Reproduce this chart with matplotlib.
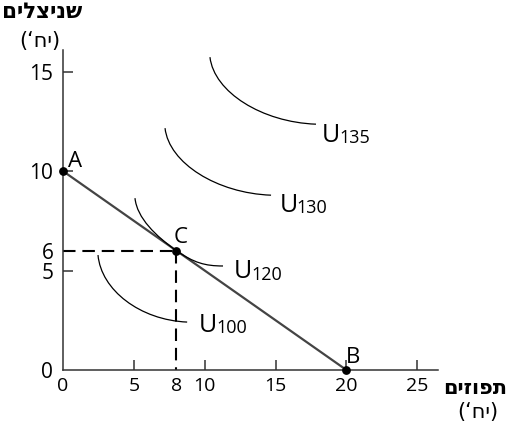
import matplotlib
matplotlib.use('Agg')
import matplotlib.pyplot as plt
from matplotlib.path import Path
from matplotlib.patches import PathPatch

plt.rcParams['font.family'] = ['Open Sans', 'DejaVu Sans']

# budget line
budget_x = [0, 20]
budget_y = [10, 0]

# points on the chart
point_names = ['A', 'B', 'C']
point_x = [0, 20, 8]
point_y = [10, 0, 6]

# indifference curves: bezier control points
u100_x = [2.47, 2.69, 5.44, 8.76]
u100_y = [5.78, 4.02, 2.51, 2.41]
u120_x = [5.08, 5.22, 6.56, 8.0, 9.24, 10.02, 11.29]
u120_y = [8.64, 7.64, 6.73, 6.0, 5.39, 5.23, 5.23]
u130_x = [7.20, 7.48, 10.87, 14.68]
u130_y = [12.16, 10.40, 8.89, 8.79]
u135_x = [10.37, 10.66, 14.04, 17.85]
u135_y = [15.73, 13.97, 12.46, 12.36]

curve_names = ['100', '120', '130', '135']
label_x = [9.60, 12.07, 15.31, 18.28]
label_y = [1.92, 4.62, 7.95, 11.46]

xtick_vals = [0, 5, 8, 10, 15, 20, 25]
ytick_vals = [0, 5, 6, 10, 15]

fig = plt.figure(figsize=(5.11, 4.29), dpi=100)
ax = fig.add_axes([63 / 511, 59 / 429, 375 / 511, 320 / 429])
ax.set_xlim(0, 26.46)
ax.set_ylim(0, 16.09)

for s in ['top', 'right']:
    ax.spines[s].set_visible(False)
for s in ['left', 'bottom']:
    ax.spines[s].set_color('#333333')
    ax.spines[s].set_linewidth(1.1)

ax.set_xticks(xtick_vals)
ax.set_yticks(ytick_vals)
ax.set_xticklabels([str(v) for v in xtick_vals], fontsize=14)
ax.set_yticklabels([str(v) for v in ytick_vals], fontsize=15)
ax.tick_params(axis='x', direction='in', length=7, width=1.1, color='#333333', pad=5)
ax.tick_params(axis='y', direction='in', length=7, width=1.1, color='#333333', pad=7)
# no tick marks at 0 and at the dashed values
for i, v in enumerate(xtick_vals):
    if v in (0, 8):
        ax.xaxis.get_major_ticks()[i].tick1line.set_visible(False)
for i, v in enumerate(ytick_vals):
    if v in (0, 6):
        ax.yaxis.get_major_ticks()[i].tick1line.set_visible(False)

# dashed guides to C
ax.plot([0, 8], [6, 6], color='black', lw=1.5, dashes=(6, 3.3), zorder=2)
ax.plot([8, 8], [6, 0], color='black', lw=1.5, dashes=(6, 3.3), zorder=2)

# budget line
ax.plot(budget_x, budget_y, color='#444444', lw=1.6, zorder=3, clip_on=False)


def draw_curve(xs, ys):
    verts = list(zip(xs, ys))
    codes = [Path.MOVETO] + [Path.CURVE4] * (len(verts) - 1)
    ax.add_patch(PathPatch(Path(verts, codes), fill=False, edgecolor='black', lw=0.9, zorder=3))


draw_curve(u100_x, u100_y)
draw_curve(u120_x, u120_y)
draw_curve(u130_x, u130_y)
draw_curve(u135_x, u135_y)

ax.scatter(point_x, point_y, s=28, color='black', zorder=5, clip_on=False)
ax.text(0.35, 10.2, point_names[0], fontsize=16, va='baseline')
ax.text(19.93, 0.35, point_names[1], fontsize=16, va='baseline')
ax.text(7.83, 6.38, point_names[2], fontsize=16, va='baseline')

# U labels with small numbers on the same baseline
fig.canvas.draw()
for name, lx, ly in zip(curve_names, label_x, label_y):
    t = ax.text(lx, ly, 'U', fontsize=18, va='baseline')
    w = t.get_window_extent(fig.canvas.get_renderer()).width
    ax.annotate(name, xy=(lx, ly), xytext=(w * 72 / fig.dpi - 1.0, -1), textcoords='offset points',
                fontsize=13, va='baseline')

# Hebrew axis titles (visual order)
heb = ['DejaVu Sans']
fig.text(42 / 511, 1 - 12 / 429, 'םילצינש', family=heb, fontweight='heavy', fontsize=15.5,
         ha='center', va='center')
fig.text(40 / 511, 1 - 41 / 429, '(‘חי)', family=heb, fontsize=15, ha='center', va='center')
fig.text(475 / 511, 1 - 388 / 429, 'םיזופת', family=heb, fontweight='heavy', fontsize=15,
         ha='center', va='center')
fig.text(478 / 511, 1 - 412 / 429, '(‘חי)', family=heb, fontsize=15, ha='center', va='center')

fig.savefig('out.png', dpi=100)
